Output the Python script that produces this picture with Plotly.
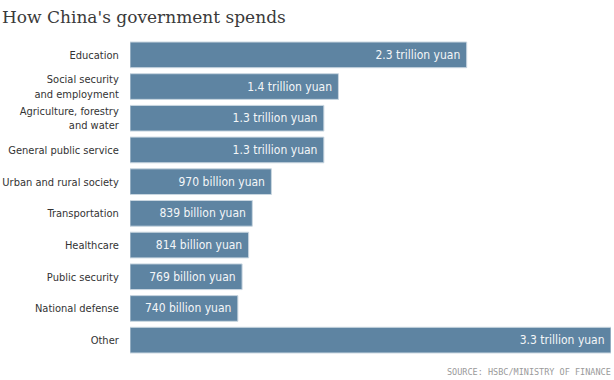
import plotly.graph_objects as go

categories = ["Education", "Social security<br>and employment", "Agriculture, forestry<br>and water",
              "General public service", "Urban and rural society", "Transportation", "Healthcare",
              "Public security", "National defense", "Other"]
values_trillion = [2.31, 1.43, 1.33, 1.33, 0.97, 0.839, 0.814, 0.769, 0.740, 3.3]
value_labels = ["2.3 trillion yuan", "1.4 trillion yuan", "1.3 trillion yuan", "1.3 trillion yuan",
                "970 billion yuan", "839 billion yuan", "814 billion yuan", "769 billion yuan",
                "740 billion yuan", "3.3 trillion yuan"]

NARROW = "DejaVu Sans Condensed, Roboto, Liberation Sans"

fig = go.Figure(go.Bar(
    x=values_trillion, y=categories, orientation="h",
    text=[t + "\u00a0" for t in value_labels], textposition="inside", insidetextanchor="end",
    textfont=dict(family=NARROW, size=12, color="#f4f6f8"),
    insidetextfont=dict(family=NARROW, size=12, color="#f4f6f8"),
    marker=dict(color="#5e84a2", line=dict(color="#c9d6e0", width=1)),
    cliponaxis=False,
    hoverinfo="skip",
))

fig.update_layout(
    width=614, height=380,
    margin=dict(l=130, r=3, t=39, b=24, autoexpand=False),
    paper_bgcolor="white", plot_bgcolor="white",
    bargap=0.19,
    showlegend=False,
    uniformtext=dict(minsize=12, mode="show"),
    xaxis=dict(range=[0, 3.3], visible=False, fixedrange=True, automargin=False),
    yaxis=dict(autorange="reversed", showgrid=False, zeroline=False, showline=False, automargin=False,
               fixedrange=True, ticks="outside", ticklen=8, tickcolor="rgba(0,0,0,0)",
               tickfont=dict(family=NARROW, size=11, color="#333333")),
    annotations=[
        dict(text="How China's government spends", x=0, y=1, xref="paper", yref="paper",
             xanchor="left", yanchor="top", showarrow=False, xshift=-130, yshift=34,
             font=dict(family="DejaVu Serif", size=17, color="#3a3a3a")),
        dict(text="SOURCE: HSBC/MINISTRY OF FINANCE", x=1, y=0, xref="paper", yref="paper",
             xanchor="right", yanchor="middle", showarrow=False, yshift=-16, xshift=2,
             font=dict(family="DejaVu Sans Mono", size=8.5, color="#9a9a9a")),
    ],
)

fig.write_html("out.html", config={"displayModeBar": False, "staticPlot": True},
               post_script="document.body.style.margin='0';")
